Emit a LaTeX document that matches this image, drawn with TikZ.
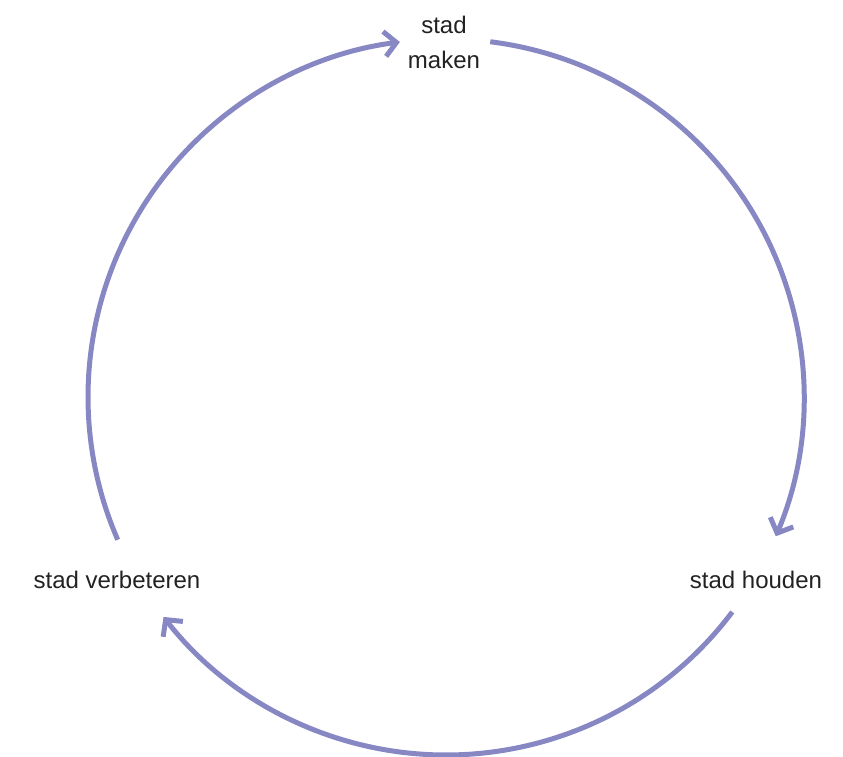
\documentclass[tikz,border=0pt]{standalone}
\usepackage{fontspec}
\setmainfont{Liberation Sans}
\usetikzlibrary{arrows.meta, positioning, calc}
\definecolor{cyclepurple}{HTML}{8787C4}
\definecolor{labelgrey}{HTML}{222222}
\tikzset{
  cyclearc/.style={cyclepurple, line width=5pt, -{Straight Barb[length=12pt, width=25pt]}},
  steplabel/.style={font=\fontsize{24}{35}\selectfont, text=labelgrey, align=center}
}

\begin{document}
\begin{tikzpicture}[x=1pt, y=1pt]
\useasboundingbox (0,0) rectangle (843,756);
\coordinate (centre) at (446,359);

% labels
\node[steplabel] (maken) at (444,714) {stad\\maken};
\node[steplabel] (houden) at (756,176) {stad houden};
\node[steplabel] (verbeteren) at (117,176) {stad verbeteren};

% cycle
\draw[cyclearc] (centre) ++(82.9:358) arc[start angle=82.9, end angle=-22.9, radius=358];
\draw[cyclearc] (centre) ++(-36.9:358) arc[start angle=-36.9, end angle=-142.1, radius=358];
\draw[cyclearc] (centre) ++(203.5:358) arc[start angle=203.5, end angle=97.4, radius=358];
\end{tikzpicture}
\end{document}
